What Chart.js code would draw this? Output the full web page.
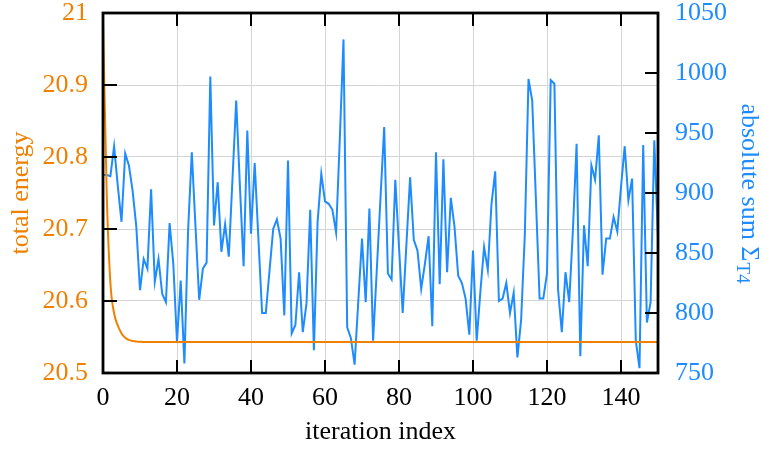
<!DOCTYPE html>
<html><head><meta charset="utf-8">
<script src="https://cdn.jsdelivr.net/npm/chart.js@4"></script>
<style>html,body{margin:0;padding:0;background:#fff}</style>
</head><body>
<canvas id="c" width="763" height="451"></canvas>
<script>
// ---- data ----
const energyIterations = [0, 1, 2, 3, 4, 5, 6, 7, 8, 9, 10, 12, 150];
const energyValues = [20.99, 20.75, 20.625, 20.583, 20.566, 20.555, 20.549, 20.546, 20.5445, 20.5437, 20.5433, 20.543, 20.543];

const absSumValues = [
  915, 915, 914, 939, 906, 876, 933, 923, 902, 872,
  819, 845, 837, 903, 826, 845, 816, 809, 875, 841,
  776, 827, 758, 869, 934, 872, 811, 837, 842, 997,
  873, 909, 851, 874, 847, 912, 977, 906, 839, 952,
  866, 925, 862, 800, 800, 835, 870, 878, 862, 798,
  927, 783, 790, 834, 784, 808, 886, 769, 876, 916,
  893, 891, 886, 867, 945, 1028, 788, 779, 757, 810,
  862, 809, 887, 777, 836, 896, 955, 833, 828, 911,
  855, 800, 857, 913, 861, 852, 820, 841, 864, 789,
  934, 824, 928, 834, 896, 872, 831, 825, 812, 782,
  852, 777, 818, 855, 836, 891, 918, 810, 812, 825,
  800, 817, 763, 794, 865, 995, 977, 895, 812, 812,
  833, 994, 991, 819, 784, 834, 809, 869, 941, 764,
  873, 839, 923, 911, 948, 832, 862, 862, 880, 868,
  905, 939, 894, 912, 777, 754, 940, 792, 809, 944,
  862
];
const iterationLabels = absSumValues.map((_, i) => i);

const xTickValues = [0, 20, 40, 60, 80, 100, 120, 140];
const energyTickValues = [20.5, 20.6, 20.7, 20.8, 20.9, 21];
const absSumTickValues = [750, 800, 850, 900, 950, 1000, 1050];

const xTitle = 'iteration index';
const leftTitle = 'total energy';
const rightTitleMain = 'absolute sum Σ';
const rightTitleSub = 'T4';

// ---- styling ----
const ORANGE = '#f08000';
const BLUE = '#1e8cff';
const GRID = '#d4d4d4';
const FONT = 'Liberation Serif';
const FS = 26;
const tickFont = { family: FONT, size: FS, lineHeight: 1 };

const noPad = s => { s.paddingTop = 0; s.paddingBottom = 0; s.paddingLeft = 0; s.paddingRight = 0; };

const frameAndTicks = {
  id: 'frameAndTicks',
  afterDatasetsDraw(chart) {
    const ctx = chart.ctx, a = chart.chartArea;
    const sx = chart.scales.x, sl = chart.scales.yE, sr = chart.scales.yA;
    const L = 13;
    ctx.save();
    ctx.strokeStyle = '#000';
    ctx.lineWidth = 2;
    ctx.beginPath();
    xTickValues.forEach(v => {
      const px = sx.getPixelForValue(v);
      ctx.moveTo(px, a.bottom); ctx.lineTo(px, a.bottom - L);
      ctx.moveTo(px, a.top); ctx.lineTo(px, a.top + L);
    });
    energyTickValues.forEach(v => {
      const py = sl.getPixelForValue(v);
      ctx.moveTo(a.left, py); ctx.lineTo(a.left + L + 1, py);
    });
    absSumTickValues.forEach(v => {
      const py = sr.getPixelForValue(v);
      ctx.moveTo(a.right, py); ctx.lineTo(a.right - L, py);
    });
    ctx.stroke();
    ctx.lineWidth = 2.8;
    ctx.strokeRect(a.left, a.top, a.right - a.left, a.bottom - a.top);
    ctx.restore();
  }
};

const rightTitle = {
  id: 'rightTitle',
  afterDraw(chart) {
    const ctx = chart.ctx, a = chart.chartArea;
    ctx.save();
    ctx.fillStyle = BLUE;
    ctx.textBaseline = 'middle';
    ctx.textAlign = 'left';
    const mainFont = FS + 'px "' + FONT + '"';
    const subFont = Math.round(FS * 0.72) + 'px "' + FONT + '"';
    ctx.font = mainFont;
    const w1 = ctx.measureText(rightTitleMain).width;
    ctx.font = subFont;
    const w2 = ctx.measureText(rightTitleSub).width;
    const W = w1 + w2;
    ctx.translate(749, (a.top + a.bottom) / 2);
    ctx.rotate(Math.PI / 2);
    ctx.font = mainFont;
    ctx.fillText(rightTitleMain, -W / 2, 0);
    ctx.font = subFont;
    ctx.fillText(rightTitleSub, -W / 2 + w1 + 1, 7);
    ctx.restore();
  }
};

new Chart(document.getElementById('c'), {
  type: 'line',
  data: {
    labels: iterationLabels,
    datasets: [
      {
        label: leftTitle,
        data: energyIterations.map((x, i) => ({ x: x, y: energyValues[i] })),
        yAxisID: 'yE',
        borderColor: ORANGE,
        borderWidth: 2,
        pointRadius: 0,
        cubicInterpolationMode: 'monotone',
        order: 0
      },
      {
        label: 'absolute sum',
        data: absSumValues,
        yAxisID: 'yA',
        borderColor: BLUE,
        borderWidth: 2,
        pointRadius: 0,
        tension: 0,
        order: 1
      }
    ]
  },
  options: {
    responsive: false,
    animation: false,
    layout: { padding: { top: 13, bottom: 0, left: 0, right: 0 } },
    plugins: { legend: { display: false }, tooltip: { enabled: false } },
    scales: {
      x: {
        type: 'linear', position: 'bottom', min: 0, max: 150,
        afterBuildTicks: s => { s.ticks = xTickValues.map(v => ({ value: v })); },
        afterFit: s => { s.height = 78; noPad(s); },
        grid: { color: GRID, lineWidth: 1, drawTicks: false },
        border: { display: false },
        ticks: { padding: 12, color: '#000', font: tickFont, maxRotation: 0, callback: v => String(v) },
        title: { display: true, text: xTitle, color: '#000', font: { family: FONT, size: FS, lineHeight: 1.2 }, padding: { top: 0, bottom: 3 } }
      },
      yE: {
        type: 'linear', position: 'left', min: 20.5, max: 21,
        afterBuildTicks: s => { s.ticks = energyTickValues.map(v => ({ value: v })); },
        afterFit: s => { s.width = 103; noPad(s); },
        grid: { color: GRID, lineWidth: 1, drawTicks: false },
        border: { display: false },
        ticks: { padding: 15, color: ORANGE, font: tickFont, callback: v => String(v) },
        title: { display: true, text: leftTitle, color: ORANGE, font: { family: FONT, size: FS, lineHeight: 1.2 }, padding: { top: 6, bottom: 0 } }
      },
      yA: {
        type: 'linear', position: 'right', min: 750, max: 1050,
        afterBuildTicks: s => { s.ticks = absSumTickValues.map(v => ({ value: v })); },
        afterFit: s => { s.width = 105; noPad(s); },
        grid: { display: false, drawTicks: false },
        border: { display: false },
        ticks: { padding: 17, color: BLUE, font: tickFont, callback: v => String(v) }
      }
    }
  },
  plugins: [frameAndTicks, rightTitle]
});
</script>
</body></html>
